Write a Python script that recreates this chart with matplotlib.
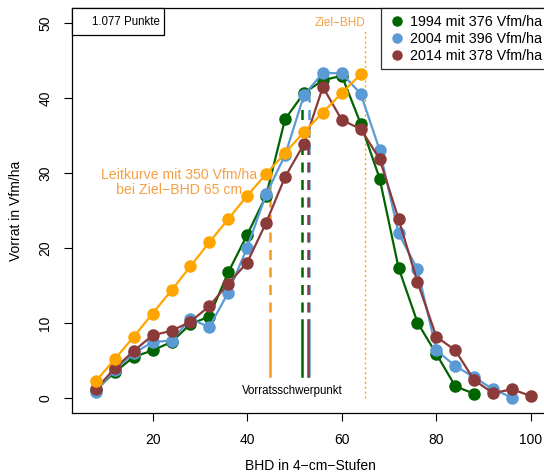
import matplotlib
matplotlib.use("Agg")
import matplotlib.pyplot as plt
from matplotlib.patches import Rectangle

plt.rcParams['font.family'] = ['Liberation Sans', 'DejaVu Sans']

# BHD-Stufen
bhd_1994 = [8, 12, 16, 20, 24, 28, 32, 36, 40, 44, 48, 52, 56, 60, 64, 68, 72, 76, 80, 84, 88]
bhd_2004 = bhd_1994 + [92, 96]
bhd_2014 = bhd_2004 + [100]
bhd_leit = [8, 12, 16, 20, 24, 28, 32, 36, 40, 44, 48, 52, 56, 60, 64]

# Vorrat in Vfm/ha je Stufe
vorrat_1994 = [1.1, 3.5, 5.5, 6.4, 7.5, 9.9, 10.9, 16.8, 21.8, 27.0, 37.2, 40.7, 42.4, 43.0,
               36.6, 29.3, 17.4, 10.1, 5.9, 1.6, 0.6]
vorrat_2004 = [0.9, 3.8, 6.0, 7.5, 7.7, 10.6, 9.5, 14.1, 20.1, 27.2, 32.4, 40.4, 43.4, 43.3,
               40.6, 33.1, 22.0, 17.2, 6.4, 4.3, 2.8, 1.2, 0.1]
vorrat_2014 = [1.2, 4.0, 6.3, 8.4, 9.0, 10.2, 12.3, 15.3, 18.1, 23.4, 29.5, 33.9, 41.5, 37.1,
               35.9, 31.9, 23.9, 15.5, 8.2, 6.4, 2.4, 0.7, 1.2, 0.3]
vorrat_leit = [2.3, 5.2, 8.2, 11.3, 14.4, 17.6, 20.8, 23.9, 27.0, 29.9, 32.7, 35.5, 38.1, 40.7, 43.2]

labels = ['1994 mit 376 Vfm/ha', '2004 mit 396 Vfm/ha', '2014 mit 378 Vfm/ha']

# Vorratsschwerpunkte (Leitkurve, 1994, 2004, 2014) und Hoehe der Linie
schwerpunkt_x = [44.8, 51.6, 53.0, 52.9]
schwerpunkt_top = [30.3, 40.3, 40.2, 35.6]
ziel_bhd = 65

c_green = '#006400'
c_blue = '#5B9BD5'
c_brown = '#8B3A3A'
c_orange = '#FFA500'
c_orange_txt = '#F5A045'
c_orange_line = '#F39A1E'

fig = plt.figure(figsize=(5.44, 4.76), dpi=100)
ax = fig.add_axes([0.1318, 0.1317, 0.8765, 0.851])

ms = 8
lw = 1.6
ax.plot(bhd_1994, vorrat_1994, 'o-', color=c_green, lw=lw, ms=ms, zorder=3)
ax.plot(bhd_2004, vorrat_2004, 'o-', color=c_blue, lw=lw, ms=ms, zorder=3)
ax.plot(bhd_2014, vorrat_2014, 'o-', color=c_brown, lw=lw, ms=ms, zorder=3)
ax.plot(bhd_leit, vorrat_leit, 'o-', color=c_orange, lw=lw, ms=ms, zorder=3)

# Vorratsschwerpunkt-Linien
sp_colors = [c_orange_line, c_green, c_blue, c_brown]
for x, top, c in zip(schwerpunkt_x, schwerpunkt_top, sp_colors):
    ax.plot([x, x], [3, 10.5], color=c, lw=1.8, zorder=2)
    ax.plot([x, x], [11.5, top], color=c, lw=1.8, ls=(0, (4, 3)), zorder=2)
ax.text(49.5, 1.0, 'Vorratsschwerpunkt', ha='center', va='center', fontsize=8.3)

# Ziel-BHD
ax.plot([ziel_bhd, ziel_bhd], [0, 49.2], color=c_orange, lw=1.0, ls=(0, (1.5, 2)), zorder=2)
ax.text(ziel_bhd, 50, 'Ziel\u2212BHD', ha='right', va='center', fontsize=8.5, color=c_orange_txt)

ax.text(25.5, 28.8, 'Leitkurve mit 350 Vfm/ha\nbei Ziel\u2212BHD 65 cm', ha='center', va='center',
        fontsize=10.2, color=c_orange_txt, linespacing=1.1)

ax.set_xlim(2.9, 103.7)
ax.set_ylim(-2, 52)
ax.set_xticks([20, 40, 60, 80, 100])
ax.set_yticks([0, 10, 20, 30, 40, 50])
ax.tick_params(axis='both', labelsize=10, length=6, width=0.8, pad=8)
for lab in ax.get_yticklabels():
    lab.set_rotation(90)
    lab.set_va('center')
for s in ax.spines.values():
    s.set_linewidth(0.9)

ax.set_xlabel('BHD in 4\u2212cm\u2212Stufen', fontsize=10, labelpad=9)
ax.set_ylabel('Vorrat in Vfm/ha', fontsize=10, labelpad=11)

# Legende oben rechts
handles = [plt.Line2D([], [], marker='o', ls='', color=c, ms=6.5) for c in [c_green, c_blue, c_brown]]
leg = ax.legend(handles, labels, loc='upper right', fontsize=10.3, frameon=True, fancybox=False,
                borderaxespad=0, handletextpad=0.25, handlelength=1.3, labelspacing=0.22,
                borderpad=0.45)
leg.get_frame().set_edgecolor('black')
leg.get_frame().set_linewidth(0.9)

# Punkte-Box oben links
ax.add_patch(Rectangle((0, 1 - 0.0652), 0.1936, 0.0652, transform=ax.transAxes,
                       fc='white', ec='black', lw=0.9, zorder=5, clip_on=False))
ax.text(0.1128, 0.967, '1.077 Punkte', transform=ax.transAxes, fontsize=8.3,
        ha='center', va='center', zorder=6)

fig.savefig('out.png', dpi=100)
